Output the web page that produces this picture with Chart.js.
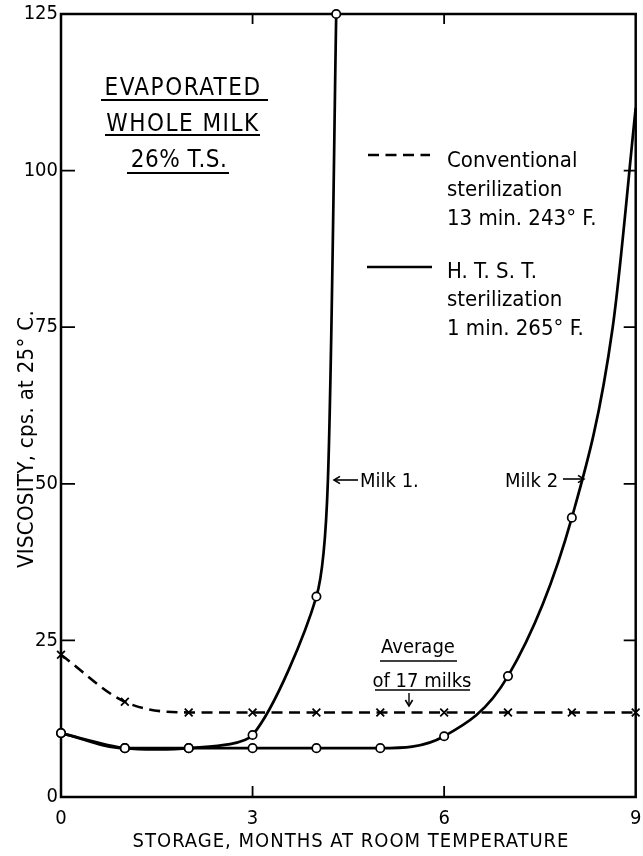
<!DOCTYPE html>
<html>
<head>
<meta charset="utf-8">
<script src="https://cdn.jsdelivr.net/npm/chart.js@4.4.1/dist/chart.umd.min.js"></script>
<style>
html,body{margin:0;padding:0;background:#fff;}
canvas{display:block;}
</style>
</head>
<body>
<canvas id="c" width="643" height="856"></canvas>
<script>
// ---- data ----
const months = [0, 1, 2, 3, 4, 5, 6, 7, 8, 9];
const conventional = [22.7, 15.2, 13.5, 13.5, 13.5, 13.5, 13.5, 13.5, 13.5, 13.5];
const milk1Months = [0, 1, 2, 3, 4, 4.18, 4.31];
const milk1 = [10.2, 7.8, 7.8, 9.9, 32, 50.6, 125];
const milk1Marked = [true, true, true, true, true, false, true];
const milk2Months = [0, 1, 2, 3, 4, 5, 6, 7, 8, 8.64, 9];
const milk2 = [10.2, 7.8, 7.8, 7.8, 7.8, 7.8, 9.7, 19.3, 44.6, 75, 110];
const milk2Marked = [true, true, true, true, true, true, true, true, true, false, false];
const xTickValues = [0, 3, 6, 9];
const yTickValues = [0, 25, 50, 75, 100, 125];
const xInnerTicks = [3, 6];
const yInnerTicks = [25, 50, 75, 100];

const FONT = '"DejaVu Sans Condensed", "DejaVu Sans", sans-serif';

function pts(xs, ys) { return xs.map((x, i) => ({ x: x, y: ys[i] })); }

function text(ctx, s, x, y, size, align, spacing) {
  ctx.save();
  ctx.font = size + 'px ' + FONT;
  ctx.fillStyle = '#000';
  ctx.textAlign = align || 'left';
  ctx.textBaseline = 'alphabetic';
  ctx.letterSpacing = (spacing || 0) + 'px';
  ctx.fillText(s, x, y);
  ctx.restore();
}
function line(ctx, x1, y1, x2, y2, w, dash) {
  ctx.save();
  ctx.strokeStyle = '#000';
  ctx.lineWidth = w;
  ctx.setLineDash(dash || []);
  ctx.beginPath();
  ctx.moveTo(x1, y1);
  ctx.lineTo(x2, y2);
  ctx.stroke();
  ctx.restore();
}
function arrowHead(ctx, x, y, dx, dy) {
  ctx.save();
  ctx.strokeStyle = '#000';
  ctx.lineWidth = 1.6;
  ctx.beginPath();
  const L = 6;
  const px = -dy, py = dx;
  ctx.moveTo(x - dx * L + px * L * 0.6, y - dy * L + py * L * 0.6);
  ctx.lineTo(x, y);
  ctx.lineTo(x - dx * L - px * L * 0.6, y - dy * L - py * L * 0.6);
  ctx.stroke();
  ctx.restore();
}

const framePlugin = {
  id: 'frame',
  beforeDatasetsDraw(chart) {
    const { ctx, chartArea: a, scales: { x, y } } = chart;
    ctx.save();
    ctx.strokeStyle = '#000';
    ctx.lineWidth = 2.5;
    ctx.strokeRect(a.left, a.top, a.right - a.left, a.bottom - a.top);
    ctx.lineWidth = 1.8;
    ctx.beginPath();
    yInnerTicks.forEach(v => {
      const py = y.getPixelForValue(v);
      ctx.moveTo(a.left, py); ctx.lineTo(a.left + 14, py);
      ctx.moveTo(a.right, py); ctx.lineTo(a.right - 12, py);
    });
    xInnerTicks.forEach(v => {
      const px = x.getPixelForValue(v);
      ctx.moveTo(px, a.bottom); ctx.lineTo(px, a.bottom - 11);
      ctx.moveTo(px, a.top); ctx.lineTo(px, a.top + 10);
    });
    ctx.stroke();
    ctx.restore();
  },
  afterDraw(chart) {
    const ctx = chart.ctx;
    // axis titles
    text(ctx, 'STORAGE, MONTHS AT ROOM TEMPERATURE', 351, 847, 20, 'center', 1);
    ctx.save();
    ctx.translate(33, 439);
    ctx.rotate(-Math.PI / 2);
    text(ctx, 'VISCOSITY, cps. at 25\u00B0 C.', 0, 0, 22, 'center', 0.3);
    ctx.restore();

    // product block
    text(ctx, 'EVAPORATED', 183, 95, 24, 'center', 1.5);
    line(ctx, 101, 100, 268, 100, 2);
    text(ctx, 'WHOLE MILK', 183, 131, 24, 'center', 1.5);
    line(ctx, 105, 135, 260, 135, 2);
    text(ctx, '26% T.S.', 179, 167, 24, 'center', 0.5);
    line(ctx, 127, 173, 229, 173, 2);

    // legend
    line(ctx, 368, 155, 430, 155, 2.5, [11, 6.5]);
    text(ctx, 'Conventional', 447, 167, 22, 'left');
    text(ctx, 'sterilization', 447, 196, 22, 'left');
    text(ctx, '13 min. 243\u00B0 F.', 447, 225, 22, 'left');
    line(ctx, 367, 267, 432, 267, 2.5);
    text(ctx, 'H. T. S. T.', 447, 278, 22, 'left');
    text(ctx, 'sterilization', 447, 306, 22, 'left');
    text(ctx, '1 min. 265\u00B0 F.', 447, 335, 22, 'left');

    // curve labels
    line(ctx, 334, 480, 358, 480, 1.6);
    arrowHead(ctx, 334, 480, -1, 0);
    text(ctx, 'Milk 1.', 360, 487, 20, 'left');
    text(ctx, 'Milk 2', 505, 487, 20, 'left');
    line(ctx, 563, 479, 584, 479, 1.6);
    arrowHead(ctx, 584, 479, 1, 0);

    text(ctx, 'Average', 418, 653, 20, 'center');
    line(ctx, 380, 661, 457, 661, 1.6);
    text(ctx, 'of 17 milks', 422, 687, 20, 'center');
    line(ctx, 375, 690, 470, 690, 1.6);
    line(ctx, 409, 693, 409, 706, 1.4);
    arrowHead(ctx, 409, 706, 0, 1);
  }
};

new Chart(document.getElementById('c'), {
  type: 'line',
  data: {
    datasets: [
      {
        label: 'Conventional sterilization 13 min. 243\u00B0 F.',
        data: pts(months, conventional),
        borderColor: '#000',
        borderWidth: 2.6,
        borderDash: [11, 6.5],
        cubicInterpolationMode: 'monotone',
        pointStyle: 'crossRot',
        pointRadius: 5.5,
        pointBorderWidth: 1.8,
        pointBorderColor: '#000',
        pointBackgroundColor: '#000',
        clip: false,
        fill: false
      },
      {
        label: 'Milk 1 (H.T.S.T.)',
        data: pts(milk1Months, milk1),
        borderColor: '#000',
        borderWidth: 2.7,
        tension: 0.25,
        pointStyle: 'circle',
        pointRadius: milk1Marked.map(m => m ? 4.2 : 0),
        pointBorderWidth: 1.7,
        pointBorderColor: '#000',
        pointBackgroundColor: '#fff',
        clip: false,
        fill: false
      },
      {
        label: 'Milk 2 (H.T.S.T.)',
        data: pts(milk2Months, milk2),
        borderColor: '#000',
        borderWidth: 2.7,
        cubicInterpolationMode: 'monotone',
        pointStyle: 'circle',
        pointRadius: milk2Marked.map(m => m ? 4.2 : 0),
        pointBorderWidth: 1.7,
        pointBorderColor: '#000',
        pointBackgroundColor: '#fff',
        clip: false,
        fill: false
      }
    ]
  },
  options: {
    responsive: false,
    animation: false,
    devicePixelRatio: 1,
    layout: { padding: { top: 14, right: 3, left: 0, bottom: 0 } },
    plugins: { legend: { display: false }, tooltip: { enabled: false } },
    scales: {
      x: {
        type: 'linear', min: 0, max: 9,
        afterBuildTicks: s => { s.ticks = xTickValues.map(v => ({ value: v })); },
        afterFit: s => { s.height = 59; s.paddingLeft = 0; s.paddingRight = 0; },
        grid: { display: false, drawTicks: false },
        border: { display: false },
        ticks: { color: '#000', padding: 10, maxRotation: 0, font: { family: FONT, size: 20 } }
      },
      y: {
        type: 'linear', min: 0, max: 125,
        afterBuildTicks: s => { s.ticks = yTickValues.map(v => ({ value: v })); },
        afterFit: s => { s.width = 61; s.paddingTop = 0; s.paddingBottom = 0; },
        grid: { display: false, drawTicks: false },
        border: { display: false },
        ticks: { color: '#000', padding: 3, font: { family: FONT, size: 20 } }
      }
    }
  },
  plugins: [framePlugin]
});
</script>
</body>
</html>
